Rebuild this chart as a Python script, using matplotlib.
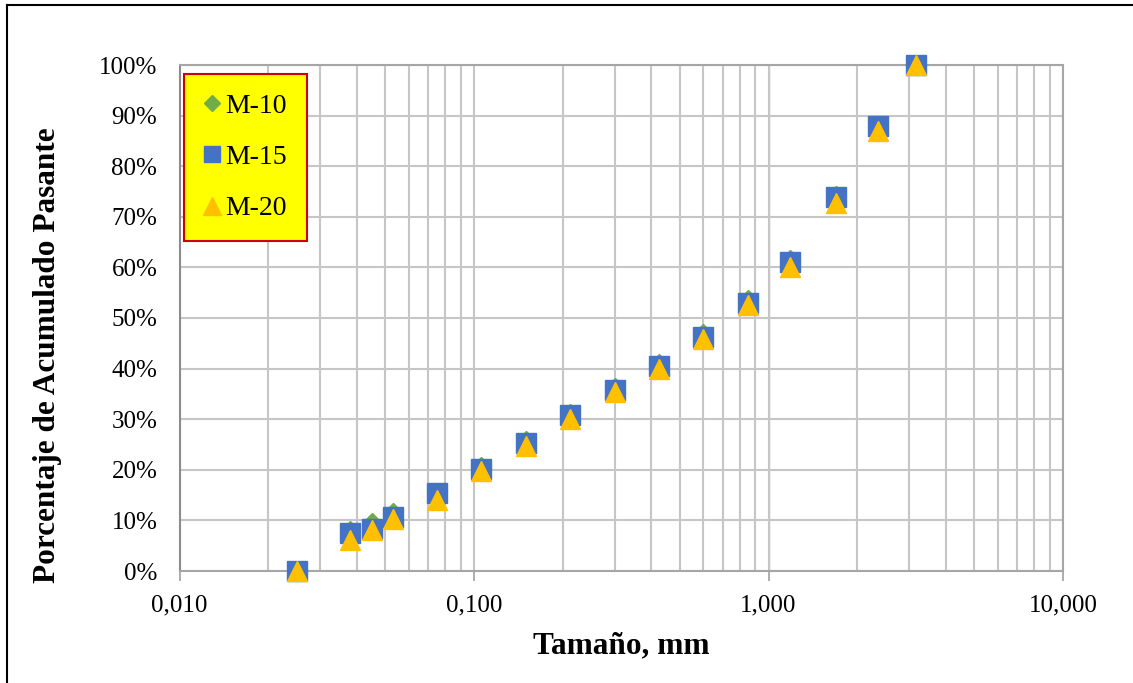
import matplotlib
matplotlib.use("Agg")
import matplotlib.pyplot as plt
from matplotlib.ticker import FixedLocator, FuncFormatter, NullFormatter, LogLocator
from matplotlib.lines import Line2D

# ---- data ----
tamano = [0.025, 0.038, 0.045, 0.053, 0.075, 0.106, 0.150, 0.212, 0.300,
          0.425, 0.600, 0.850, 1.18, 1.70, 2.36, 3.175]
m10 = [0.0, 8.1, 9.6, 11.6, 15.5, 20.8, 25.9, 31.3, 36.4, 41.2, 47.1, 53.7,
       61.7, 74.4, 88.0, 100.0]
m15 = [0.0, 7.5, 8.3, 10.7, 15.4, 20.2, 25.3, 30.8, 35.8, 40.6, 46.3, 53.0,
       61.1, 74.0, 88.0, 100.0]
m20 = [0.0, 6.2, 8.1, 10.3, 14.1, 19.7, 24.8, 30.1, 35.4, 40.0, 45.9, 52.5,
       60.1, 72.8, 86.9, 100.0]
series_names = ["M-10", "M-15", "M-20"]
x_ticks = [0.01, 0.1, 1, 10]
x_tick_labels = ["0,010", "0,100", "1,000", "10,000"]
y_ticks = list(range(0, 101, 10))

plt.rcParams["font.family"] = ["Liberation Serif", "DejaVu Serif"]

W, H = 1133, 683
fig = plt.figure(figsize=(W / 100, H / 100), dpi=100)
L, R, T, B = 179.5, 1063, 65, 571
ax = fig.add_axes([L / W, (H - B) / H, (R - L) / W, (B - T) / H])

ax.set_xscale("log")
ax.set_xlim(0.01, 10)
ax.set_ylim(0, 100)

grid_c = "#C6C6C6"
ax.xaxis.set_major_locator(FixedLocator(x_ticks))
ax.xaxis.set_major_formatter(FuncFormatter(lambda v, p: x_tick_labels[x_ticks.index(v)] if v in x_ticks else ""))
ax.xaxis.set_minor_locator(LogLocator(base=10, subs=range(2, 10)))
ax.xaxis.set_minor_formatter(NullFormatter())
ax.yaxis.set_major_locator(FixedLocator(y_ticks))
ax.yaxis.set_major_formatter(FuncFormatter(lambda v, p: f"{int(round(v))}%"))

ax.grid(True, which="major", color=grid_c, lw=1.5)
ax.grid(True, which="minor", axis="x", color=grid_c, lw=1.5)
ax.set_axisbelow(True)

ax.tick_params(axis="x", which="major", length=7, width=1.2, color="#A0A0A0",
               labelsize=18, pad=10)
ax.tick_params(axis="x", which="minor", length=0)
ax.tick_params(axis="y", which="major", length=0, labelsize=18, pad=16)

for s in ["left", "bottom", "right", "top"]:
    ax.spines[s].set_color("#A6A6A6")
    ax.spines[s].set_linewidth(1.5)
ax.spines["left"].set_color("#8C8C8C")

# darker vertical lines at 0.1 and 1 (Excel-style axis crossing)
sec1 = ax.secondary_yaxis(1 / 3)
sec1.spines["left"].set_color("#8C8C8C")
sec1.spines["left"].set_linewidth(1.3)
sec1.set_yticks([])
sec2 = ax.secondary_yaxis(2 / 3)
sec2.spines["left"].set_color("#8C8C8C")
sec2.spines["left"].set_linewidth(1.3)
sec2.set_yticks(y_ticks)
sec2.yaxis.set_major_formatter(NullFormatter())
sec2.tick_params(length=7, width=1.2, color="#8C8C8C",
                 labelleft=False, labelright=False)

# data
ax.plot(tamano, m10, ls="none", marker="D", ms=8.8, color="#70AD47", zorder=3,
        clip_on=False, label=series_names[0])
ax.plot(tamano, m15, ls="none", marker="s", ms=14.2, color="#4472C4", zorder=4,
        clip_on=False, label=series_names[1])
ax.plot(tamano, m20, ls="none", marker="^", ms=14.6, color="#FFC000", zorder=5,
        clip_on=False, label=series_names[2])

handles = [
    Line2D([], [], ls="none", marker="D", ms=8.5, color="#70AD47"),
    Line2D([], [], ls="none", marker="s", ms=12, color="#4472C4"),
    Line2D([], [], ls="none", marker="^", ms=12.5, color="#FFC000"),
]
leg = ax.legend(handles, series_names, loc="upper left",
                bbox_to_anchor=((184 - L) / (R - L), (B - 74) / (B - T)),
                frameon=True, fancybox=False, facecolor="#FFFF00",
                edgecolor="#D00000", framealpha=1, fontsize=20,
                handlelength=0.6, handletextpad=0.2, labelspacing=0.93,
                borderpad=0.7, borderaxespad=0, markerscale=1)
leg.get_frame().set_linewidth(1.5)
leg.set_zorder(10)

# axis titles
fig.text((L + R) / 2 / W, 1 - 646 / H, "Tamaño, mm", ha="center", va="center",
         fontsize=22.5, fontweight="bold")
fig.text(48 / W, 1 - 355 / H, "Porcentaje de Acumulado Pasante", ha="center",
         va="center", rotation=90, fontsize=22.5, fontweight="bold")

# outer border (top and left visible)
fig.add_artist(Line2D([7 / W, 7 / W], [0, 1 - 4.5 / H], transform=fig.transFigure,
                      color="black", lw=1.5))
fig.add_artist(Line2D([7 / W, 1], [1 - 4.5 / H, 1 - 4.5 / H], transform=fig.transFigure,
                      color="black", lw=1.5))

fig.savefig("out.png", dpi=100)
